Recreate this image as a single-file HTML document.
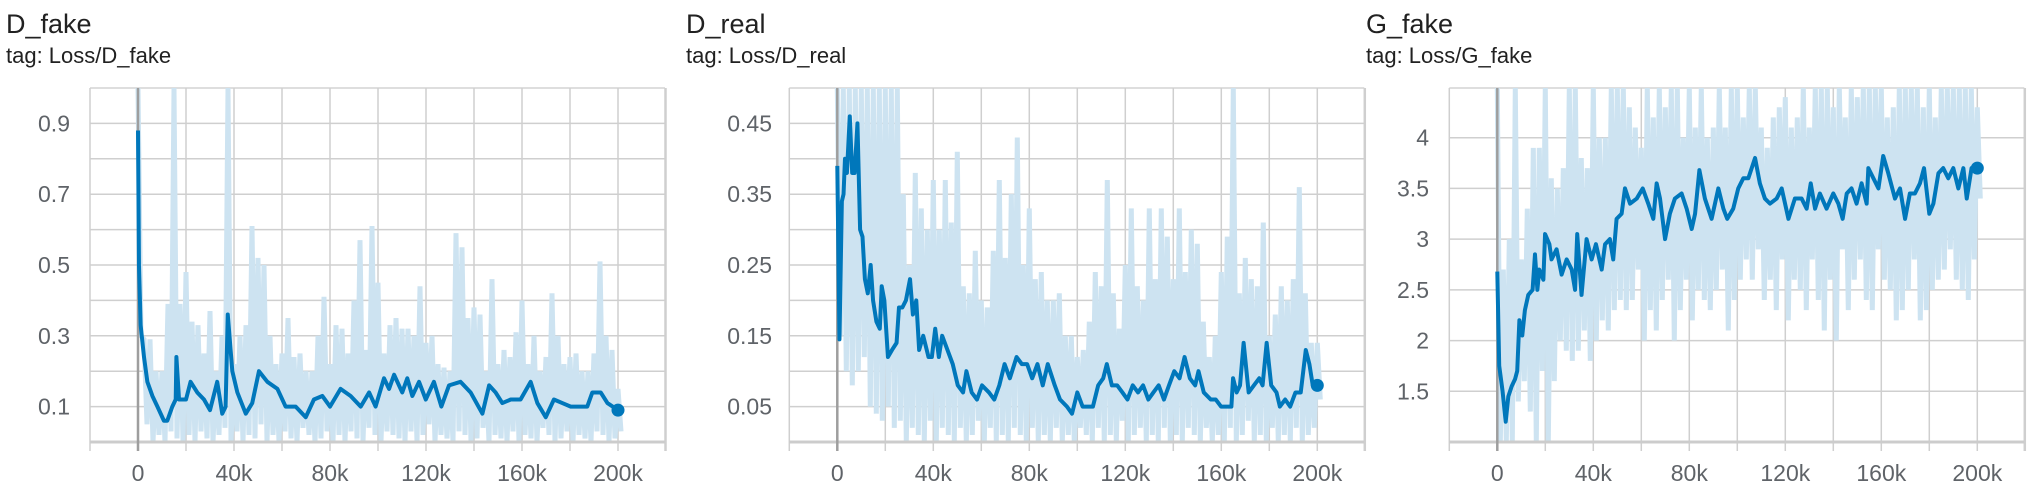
<!DOCTYPE html>
<html><head><meta charset="utf-8"><style>
html,body{margin:0;padding:0;background:#fff;width:2037px;height:494px;overflow:hidden;font-family:"Liberation Sans",Arial,sans-serif}
svg{position:absolute;left:0;top:0}
</style></head><body>
<svg id="chart" width="2037" height="494" xmlns="http://www.w3.org/2000/svg"></svg>
<script>
// ---------- shared raw bin steps (k) ----------
const binStepK = 2.5;
// ---------- D_fake ----------
const dfSmoothSteps = [0,0.4,1.1,2.5,3.9,6,8.1,10.8,12.2,14.3,15.7,16,17.1,20,21.9,24.7,27.5,30,33,35.1,36.5,37.4,39.3,41.4,44.9,47.6,50.4,53.9,58.1,61.5,65.7,69.9,73.3,76.8,80,84.4,88.6,92.8,96.3,99,102.5,104.6,106.7,110.1,112.2,114.3,117.1,119.9,123.3,126.4,129.6,134.4,138.6,143.5,146.3,149,151.8,155.3,159.4,163.6,166.4,169.9,173.3,176.8,180.3,183.8,187.2,189.3,192.8,195.6,200];
const dfSmoothVals = [0.88,0.50,0.33,0.24,0.17,0.13,0.10,0.06,0.06,0.10,0.12,0.24,0.12,0.12,0.17,0.14,0.12,0.09,0.17,0.08,0.10,0.36,0.20,0.14,0.08,0.11,0.20,0.17,0.15,0.10,0.10,0.07,0.12,0.13,0.10,0.15,0.13,0.10,0.14,0.10,0.18,0.15,0.19,0.14,0.18,0.13,0.17,0.12,0.17,0.10,0.16,0.17,0.14,0.08,0.16,0.14,0.11,0.12,0.12,0.17,0.11,0.07,0.12,0.11,0.10,0.10,0.10,0.14,0.14,0.11,0.09];
const dfRawHigh = [1.0,0.29,0.29,0.2,0.2,0.39,1.0,0.39,0.48,0.34,0.33,0.25,0.37,0.2,0.3,1.0,0.22,0.3,0.33,0.61,0.52,0.5,0.3,0.22,0.25,0.35,0.24,0.25,0.2,0.2,0.3,0.41,0.22,0.33,0.32,0.25,0.4,0.57,0.26,0.61,0.45,0.25,0.33,0.35,0.32,0.32,0.30,0.44,0.28,0.3,0.22,0.21,0.2,0.59,0.55,0.35,0.38,0.36,0.2,0.46,0.22,0.26,0.24,0.31,0.40,0.22,0.3,0.2,0.24,0.42,0.3,0.22,0.24,0.25,0.2,0.2,0.25,0.51,0.3,0.26,0.15];
const dfRawLow = [0.3,0.05,0.0,0.02,0.0,0.03,0.01,0.0,0.02,0.0,0.03,0.01,0.0,0.02,0.04,0.0,0.03,0.0,0.02,0.01,0.05,0.0,0.02,0.0,0.03,0.01,0.0,0.04,0.02,0.0,0.01,0.03,0.0,0.02,0.0,0.03,0.01,0.0,0.04,0.02,0.0,0.03,0.02,0.01,0.0,0.03,0.0,0.02,0.05,0.0,0.02,0.01,0.0,0.03,0.02,0.0,0.01,0.04,0.0,0.02,0.01,0.0,0.03,0.0,0.02,0.01,0.0,0.04,0.02,0.0,0.01,0.03,0.0,0.02,0.01,0.0,0.03,0.02,0.0,0.01,0.03];
const dfYTicks = [0.1,0.3,0.5,0.7,0.9];
const dfYGrid = [0.1,0.2,0.3,0.4,0.5,0.6,0.7,0.8,0.9];
// ---------- D_real ----------
const drSmoothSteps = [0,0.9,1.9,2.6,3.2,4.0,5.2,6.2,7.2,8.4,9.5,10.5,11.5,12.7,13.9,14.9,16.3,17.7,18.5,19.6,21.1,22.8,24.7,25.7,27.1,28.6,30.3,31.5,32.9,34.1,35.8,38,39.4,40.8,42.3,43.7,45.9,48.1,50.2,52.4,53.8,56,58.2,60.3,63.2,65.4,67.5,69.7,71.9,74.7,76.9,79.1,81.2,83.4,85.6,87.7,90.6,92.8,95.7,97.8,100,102.2,104.3,106.5,108.7,110.8,112.3,114.4,116.6,118.8,120.9,123.1,125.3,127.4,129.6,131.7,133.9,136.1,138.2,140.4,142.6,144.7,146.9,149.1,150.5,152.7,155.6,157.7,159.9,162,164.2,164.9,166.4,167.8,169.3,171.4,173.6,175.8,177.2,178.9,180.8,183,184.4,186.6,188.7,190.9,193.1,195.2,196.7,198.1,200];
const drSmoothVals = [0.39,0.145,0.34,0.35,0.40,0.38,0.46,0.38,0.38,0.45,0.30,0.29,0.23,0.21,0.25,0.20,0.17,0.16,0.22,0.20,0.12,0.13,0.14,0.19,0.19,0.20,0.23,0.18,0.20,0.13,0.15,0.12,0.12,0.16,0.12,0.15,0.13,0.11,0.08,0.07,0.10,0.07,0.06,0.08,0.07,0.06,0.08,0.11,0.09,0.12,0.11,0.11,0.09,0.11,0.08,0.11,0.08,0.06,0.05,0.04,0.07,0.05,0.05,0.05,0.08,0.09,0.11,0.08,0.08,0.07,0.06,0.08,0.07,0.08,0.06,0.07,0.08,0.06,0.08,0.10,0.09,0.12,0.09,0.08,0.10,0.07,0.06,0.06,0.05,0.05,0.05,0.09,0.07,0.08,0.14,0.07,0.08,0.09,0.08,0.14,0.08,0.07,0.05,0.06,0.05,0.07,0.07,0.13,0.11,0.08,0.08];
const drRawHigh = [0.5,0.5,0.5,0.5,0.5,0.5,0.5,0.5,0.5,0.5,0.5,0.35,0.25,0.38,0.33,0.3,0.37,0.3,0.37,0.31,0.41,0.22,0.21,0.27,0.2,0.19,0.27,0.37,0.26,0.35,0.43,0.25,0.33,0.23,0.24,0.2,0.2,0.21,0.15,0.15,0.12,0.13,0.17,0.24,0.22,0.37,0.21,0.16,0.25,0.33,0.22,0.2,0.33,0.23,0.33,0.29,0.23,0.33,0.24,0.30,0.28,0.17,0.12,0.15,0.24,0.29,0.5,0.21,0.26,0.23,0.22,0.31,0.15,0.18,0.22,0.20,0.23,0.36,0.21,0.14,0.14];
const drRawLow = [0.15,0.1,0.08,0.1,0.12,0.05,0.04,0.03,0.05,0.02,0.03,0.0,0.02,0.01,0.0,0.03,0.0,0.02,0.01,0.0,0.02,0.0,0.01,0.03,0.0,0.02,0.0,0.01,0.0,0.02,0.01,0.0,0.02,0.0,0.01,0.0,0.02,0.0,0.01,0.0,0.02,0.01,0.0,0.02,0.0,0.01,0.0,0.03,0.0,0.01,0.02,0.0,0.01,0.0,0.02,0.0,0.01,0.0,0.02,0.01,0.0,0.02,0.0,0.01,0.0,0.02,0.0,0.01,0.03,0.0,0.01,0.0,0.02,0.0,0.01,0.0,0.02,0.0,0.01,0.02,0.06];
const drYTicks = [0.05,0.15,0.25,0.35,0.45];
const drYGrid = [0.05,0.1,0.15,0.2,0.25,0.3,0.35,0.4,0.45];
// ---------- G_fake ----------
const gfSmoothSteps = [0,0.8,2.2,3.5,4.6,6,7.4,8.3,9.2,10.4,11.5,12.9,14.7,15.7,16.7,17.5,19.2,19.9,21.7,22.6,24.7,26.8,28.9,31,32.4,33.3,35.1,37.2,39.3,41.1,43.5,44.9,46.9,48.3,49.7,51.8,53.2,55.3,58.1,60.6,62.9,65,66.4,67.8,69.9,71.9,74,76.8,78.9,81,82.4,84.2,86.5,89.3,92.1,94.2,95.8,98.3,100.4,102.5,104.6,107.4,109.4,111.5,113.6,116.4,118.5,121.3,124,126.8,128.9,130.6,132.4,134.4,137.2,140,142.1,143.9,145.6,147.6,149.7,151.8,153.9,154.6,156.7,158.8,160.8,162.9,165.7,167.8,169.9,171.9,174,176.1,177.8,180,181.7,183.8,185.8,187.9,190,192.1,194.2,195.6,197.6,200];
const gfSmoothVals = [2.68,1.75,1.5,1.2,1.45,1.55,1.62,1.7,2.2,2.05,2.3,2.45,2.5,2.85,2.5,2.7,2.6,3.05,2.95,2.8,2.9,2.65,2.8,2.7,2.5,3.05,2.45,3.0,2.8,2.95,2.7,2.95,3.0,2.8,3.2,3.25,3.5,3.35,3.4,3.5,3.35,3.2,3.55,3.4,3.0,3.25,3.4,3.45,3.3,3.1,3.25,3.68,3.4,3.2,3.5,3.3,3.2,3.3,3.5,3.6,3.6,3.8,3.55,3.4,3.35,3.4,3.5,3.2,3.4,3.4,3.3,3.55,3.3,3.45,3.3,3.45,3.35,3.2,3.45,3.5,3.35,3.55,3.35,3.7,3.6,3.5,3.82,3.65,3.4,3.5,3.2,3.45,3.45,3.55,3.7,3.25,3.35,3.65,3.7,3.6,3.7,3.5,3.7,3.4,3.7,3.7];
const gfRawHigh = [4.5,2.7,3.0,4.5,2.8,3.3,3.9,3.9,4.5,3.6,3.5,3.7,4.5,4.5,3.8,3.7,4.5,4.0,4.0,4.5,4.5,4.5,4.3,4.1,3.9,4.5,4.2,4.5,4.3,4.5,4.5,4.0,4.5,4.1,4.5,4.0,4.1,4.5,4.1,4.5,4.5,4.2,4.5,4.5,4.1,3.9,4.2,4.3,4.4,4.1,4.2,4.5,4.1,4.5,4.5,4.5,4.3,4.5,4.2,4.5,4.4,4.5,4.5,4.5,4.5,4.2,4.3,4.5,4.5,4.5,4.5,4.3,4.5,4.2,4.5,4.5,4.5,4.5,4.5,4.5,4.3];
const gfRawLow = [1.0,1.0,1.0,1.4,1.6,1.3,1.0,1.7,1.0,1.6,2.0,1.9,1.8,1.9,2.1,1.8,2.0,2.2,2.1,2.3,2.4,2.3,2.4,2.7,2.0,2.3,2.1,2.4,2.6,2.0,2.3,2.6,2.2,2.5,2.4,2.3,2.5,2.7,2.1,2.4,2.6,2.8,2.6,2.9,2.4,2.6,2.3,2.8,2.2,2.6,2.5,2.3,2.8,2.4,2.1,2.6,2.0,2.9,2.3,2.6,2.8,2.4,2.3,2.9,2.6,2.5,2.2,2.3,2.5,2.8,2.2,2.3,2.5,2.6,2.7,2.9,2.6,2.5,2.4,2.8,3.4];
const gfYTicks = ['1.5','2','2.5','3','3.5','4'];
const gfYGrid = [1.5,2,2.5,3,3.5,4];
const xTickLabels = ['0','40k','80k','120k','160k','200k'];

const svg = document.getElementById('chart');
const NS = 'http://www.w3.org/2000/svg';
function mk(tag, attrs, parent){ const e=document.createElementNS(NS,tag); for(const k in attrs) e.setAttribute(k,attrs[k]); (parent||svg).appendChild(e); return e; }

function drawChart(cfg){
  const g = mk('g',{});
  
  
  const top=88, bottom=442, pxPerK=2.4;
  const left=cfg.x0-48, right=cfg.x0+480+47;
  const xs = k => cfg.x0 + k*pxPerK;
  const ys = v => bottom - (v-cfg.ymin)/(cfg.ymax-cfg.ymin)*(bottom-top);
  const t = mk('text',{x:cfg.tx,y:33,'font-size':27,fill:'#212121'},g); t.textContent=cfg.title;
  
  
  const st = mk('text',{x:cfg.tx,y:63,'font-size':22,fill:'#212121'},g); st.textContent=cfg.tag;
  
  
  mk('line',{x1:left,x2:right,y1:top,y2:top,stroke:'#d4d4d4','stroke-width':1.5},g);
  cfg.ygrid.forEach(v=>{ mk('line',{x1:left,x2:right,y1:ys(v),y2:ys(v),stroke:'#cfcfcf','stroke-width':1.5},g); });
  for(let k=-20;k<=220;k+=20){ const x=xs(k); if(x>right+1) break;
    mk('line',{x1:x,x2:x,y1:top,y2:bottom,stroke:'#cfcfcf','stroke-width':1.5},g);
    mk('line',{x1:x,x2:x,y1:bottom,y2:bottom+9,stroke:'#cfcfcf','stroke-width':1.5},g);
  }
  mk('line',{x1:right,x2:right,y1:top,y2:bottom+9,stroke:'#cfcfcf','stroke-width':1.5},g);
  cfg.yticks.forEach(v=>{ const e=mk('text',{x:cfg.labelX,y:ys(parseFloat(v))+8,'font-size':23,fill:'#5f6368','text-anchor':'end'},g); e.textContent=v;
    
     });
  xTickLabels.forEach((lab,i)=>{ const e=mk('text',{x:xs(i*40),y:481,'font-size':23,fill:'#5f6368','text-anchor':'middle'},g); e.textContent=lab;
    
     });
  const cid='clip-'+cfg.name;
  const cp=mk('clipPath',{id:cid},g); mk('rect',{x:left,y:top,width:right-left,height:bottom-top},cp);
  let pts=[];
  cfg.rawHigh.forEach((h,i)=>{ const k=i*binStepK; pts.push(xs(k)+','+ys(h)); pts.push(xs(k+binStepK/2)+','+ys(cfg.rawLow[i])); });
  const raw=mk('polyline',{points:pts.join(' '),fill:'none',stroke:'#cde3f1','stroke-width':5,'stroke-linejoin':'miter','stroke-miterlimit':2,'clip-path':'url(#'+cid+')'},g);
  
  
  mk('line',{x1:left,x2:right,y1:bottom,y2:bottom,stroke:'#cccccc','stroke-width':3},g);
  mk('line',{x1:xs(0),x2:xs(0),y1:top,y2:bottom+9,stroke:'#9e9e9e','stroke-width':2.5},g);
  const sp=cfg.steps.map((k,i)=>xs(k)+','+ys(cfg.vals[i])).join(' ');
  const sm=mk('polyline',{points:sp,fill:'none',stroke:'#0077bb','stroke-width':4,'stroke-linejoin':'round','clip-path':'url(#'+cid+')'},g);
  
  
  const n=cfg.steps.length-1;
  const dot=mk('circle',{cx:xs(cfg.steps[n]),cy:ys(cfg.vals[n]),r:6.5,fill:'#0077bb'},g);
  
  
}

drawChart({name:'d-fake',title:'D_fake',tag:'tag: Loss/D_fake',tx:6,x0:138,labelX:70,ymin:0,ymax:1.0,
  ygrid:dfYGrid,yticks:dfYTicks.map(String),steps:dfSmoothSteps,vals:dfSmoothVals,rawHigh:dfRawHigh,rawLow:dfRawLow});
drawChart({name:'d-real',title:'D_real',tag:'tag: Loss/D_real',tx:686,x0:837.3,labelX:772,ymin:0,ymax:0.5,
  ygrid:drYGrid,yticks:drYTicks.map(String),steps:drSmoothSteps,vals:drSmoothVals,rawHigh:drRawHigh,rawLow:drRawLow});
drawChart({name:'g-fake',title:'G_fake',tag:'tag: Loss/G_fake',tx:1366,x0:1497.3,labelX:1429,ymin:1.0,ymax:4.49,
  ygrid:gfYGrid,yticks:gfYTicks,steps:gfSmoothSteps,vals:gfSmoothVals,rawHigh:gfRawHigh,rawLow:gfRawLow});
</script>
</body></html>
